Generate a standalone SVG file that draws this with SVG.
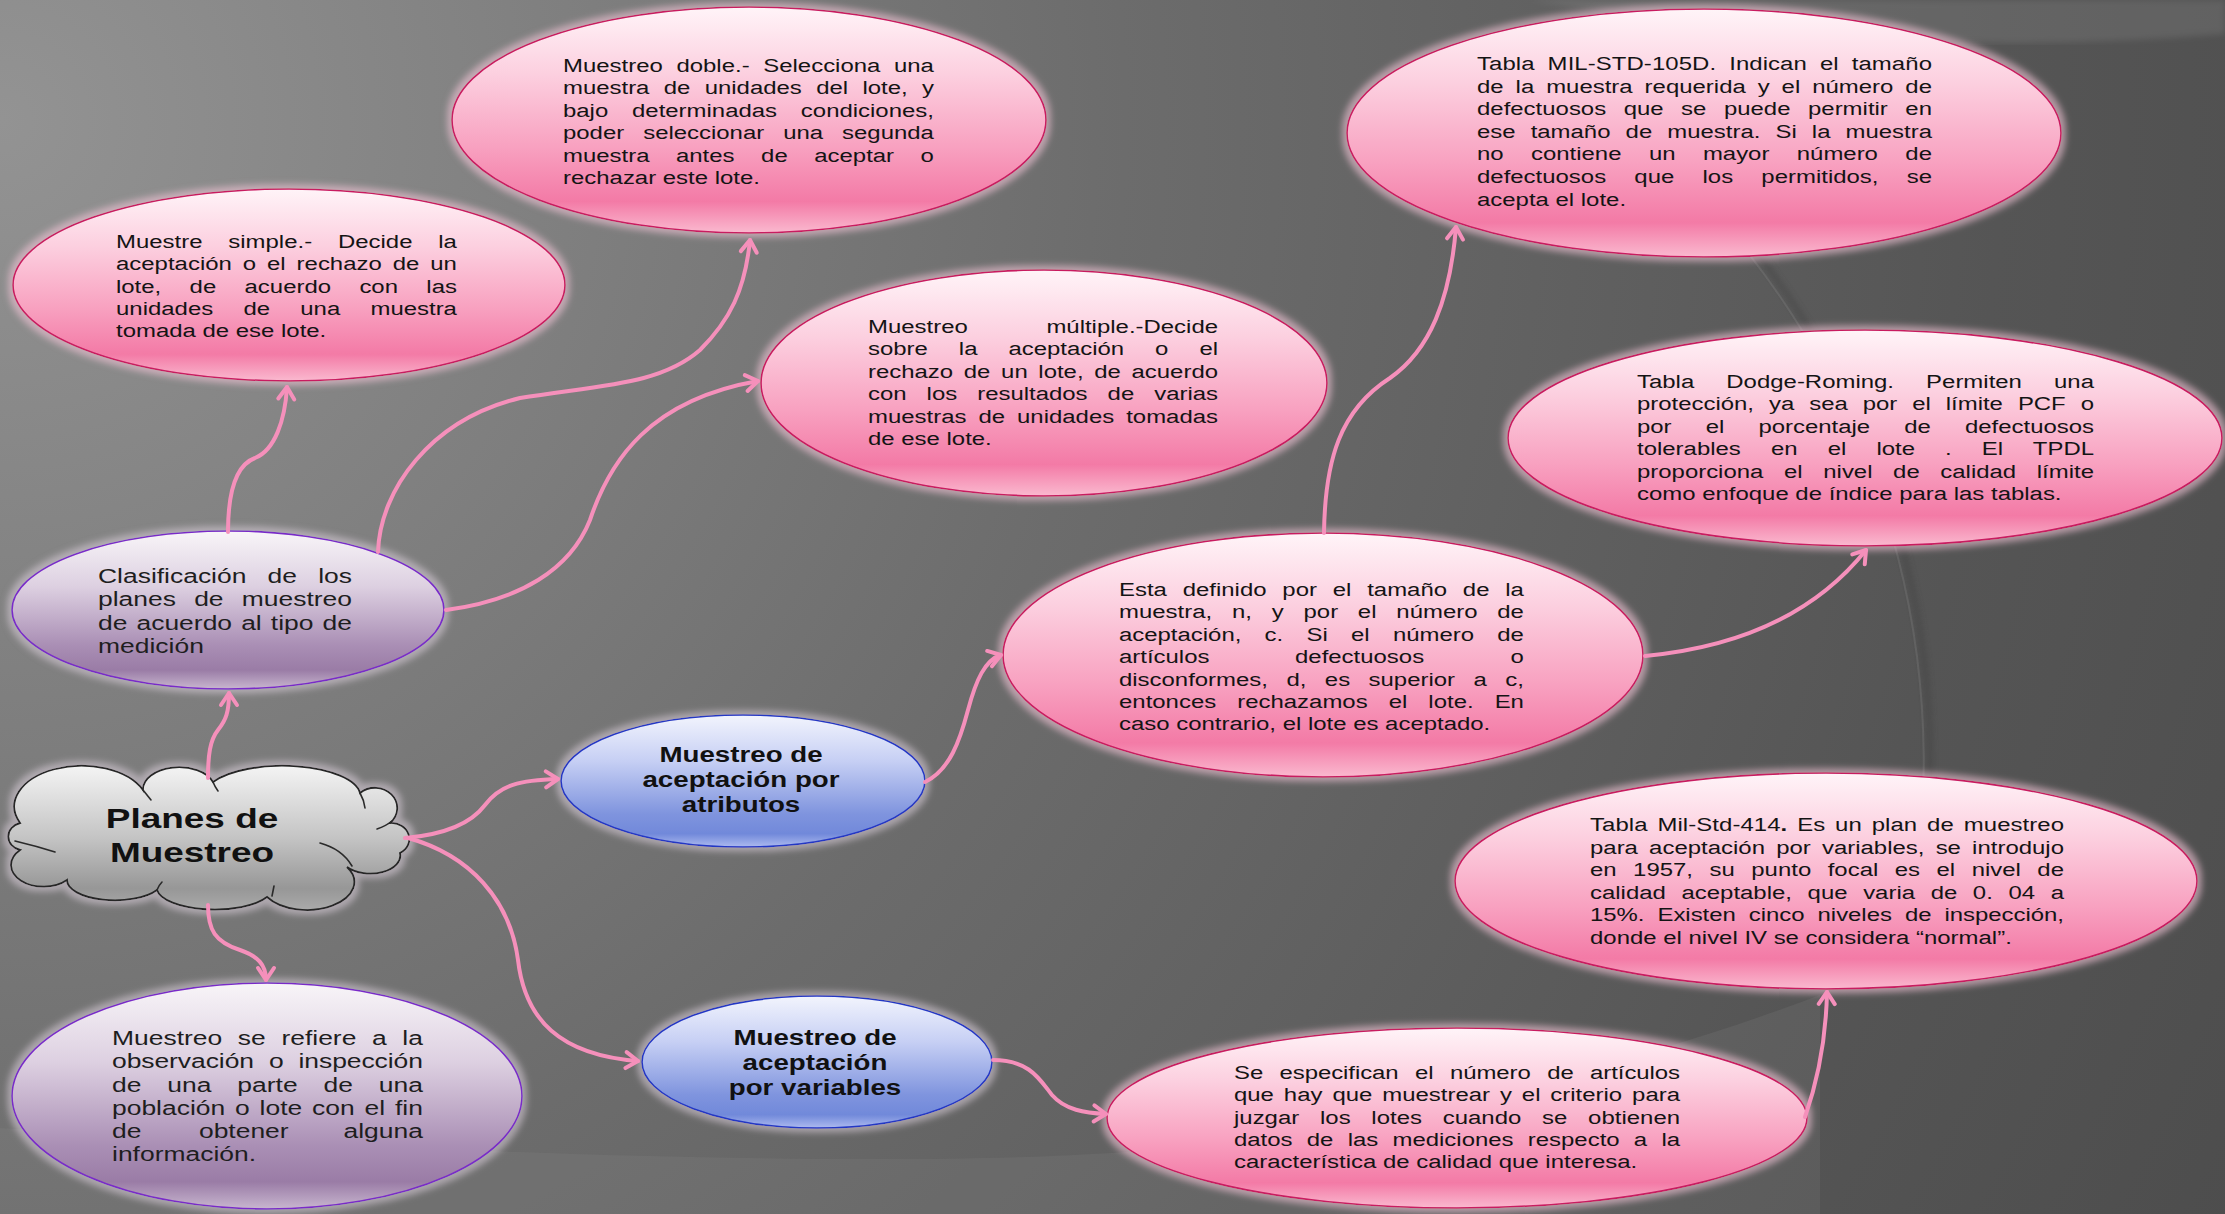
<svg xmlns="http://www.w3.org/2000/svg" width="2225" height="1214" viewBox="0 0 2225 1214">
<defs>
<style>
.t{font-family:"Liberation Sans",Arial,sans-serif;font-size:19px;fill:#141414}
.tp{font-size:21px;fill:#1e1e1e}
.tb{font-family:"Liberation Sans",Arial,sans-serif;font-weight:bold;font-size:22px;fill:#111;text-anchor:middle}
.tc{font-family:"Liberation Sans",Arial,sans-serif;font-weight:bold;font-size:28px;fill:#111;text-anchor:middle}
.e{text-anchor:end}
.pink{fill:url(#gPink);stroke:#c81a60;stroke-width:1.6;filter:url(#glowP)}
.purple{fill:url(#gPurple);stroke:#7a2cc8;stroke-width:1.6;filter:url(#glowV)}
.blue{fill:url(#gBlue);stroke:#2438c4;stroke-width:1.6;filter:url(#glowV)}
.conn{fill:none;stroke:#f590bb;stroke-width:4;stroke-linecap:round;marker-end:url(#arr)}
.inner{fill:none;stroke:#2a2a2a;stroke-width:1.6;stroke-linecap:round}
</style>
<radialGradient id="bg" cx="0" cy="120" r="2500" gradientUnits="userSpaceOnUse">
<stop offset="0" stop-color="#939393"/>
<stop offset="0.45" stop-color="#6c6c6c"/>
<stop offset="0.8" stop-color="#555555"/>
<stop offset="1" stop-color="#4d4d4d"/>
</radialGradient>
<linearGradient id="gPink" x1="0" y1="0" x2="0" y2="1">
<stop offset="0" stop-color="#fff4f8"/>
<stop offset="0.3" stop-color="#fccfdf"/>
<stop offset="0.62" stop-color="#f8a1c0"/>
<stop offset="0.86" stop-color="#f37aa6"/>
<stop offset="1" stop-color="#fab9cf"/>
</linearGradient>
<linearGradient id="gPurple" x1="0" y1="0" x2="0" y2="1">
<stop offset="0" stop-color="#f8f5f8"/>
<stop offset="0.35" stop-color="#ddd0e1"/>
<stop offset="0.72" stop-color="#aa8fb5"/>
<stop offset="0.88" stop-color="#9a7ca6"/>
<stop offset="1" stop-color="#c8b6cf"/>
</linearGradient>
<linearGradient id="gBlue" x1="0" y1="0" x2="0" y2="1">
<stop offset="0" stop-color="#f2f4fd"/>
<stop offset="0.35" stop-color="#c6cff4"/>
<stop offset="0.75" stop-color="#7f94de"/>
<stop offset="0.9" stop-color="#7189da"/>
<stop offset="1" stop-color="#adbaef"/>
</linearGradient>
<linearGradient id="gCloud" x1="0" y1="0" x2="0" y2="1">
<stop offset="0" stop-color="#f4f4f4"/>
<stop offset="0.5" stop-color="#c4c4c4"/>
<stop offset="0.85" stop-color="#979797"/>
<stop offset="1" stop-color="#aaaaaa"/>
</linearGradient>
<filter id="glowP" x="-10%" y="-15%" width="120%" height="130%">
<feMorphology in="SourceAlpha" operator="dilate" radius="4" result="d"/>
<feGaussianBlur in="d" stdDeviation="3" result="b"/>
<feFlood flood-color="#f2c4d6" flood-opacity="0.6"/>
<feComposite in2="b" operator="in" result="g"/>
<feMerge><feMergeNode in="g"/><feMergeNode in="SourceGraphic"/></feMerge>
</filter>
<filter id="glowV" x="-10%" y="-15%" width="120%" height="130%">
<feMorphology in="SourceAlpha" operator="dilate" radius="4" result="d"/>
<feGaussianBlur in="d" stdDeviation="3" result="b"/>
<feFlood flood-color="#dcd0dc" flood-opacity="0.55"/>
<feComposite in2="b" operator="in" result="g"/>
<feMerge><feMergeNode in="g"/><feMergeNode in="SourceGraphic"/></feMerge>
</filter>
<filter id="soft" x="-5%" y="-5%" width="110%" height="110%">
<feGaussianBlur stdDeviation="3"/>
</filter>
<marker id="arr" markerUnits="userSpaceOnUse" markerWidth="22" markerHeight="22" viewBox="0 0 22 22" refX="17" refY="11" orient="auto">
<path d="M 5 3 L 17 11 L 5 19" fill="none" stroke="#f590bb" stroke-width="4" stroke-linecap="round" stroke-linejoin="round"/>
</marker>
</defs>

<g id="background">
<rect x="0" y="0" width="2225" height="1214" fill="url(#bg)"/>
<path d="M 1530 0 Q 1880 62 2225 34 L 2225 0 Z" fill="#9a9a9a" opacity="0.22" filter="url(#soft)"/>
<path d="M 1717 205 A 830 830 0 0 1 1908 950" fill="none" stroke="#3a3a3a" stroke-width="5" opacity="0.45" filter="url(#soft)"/>
<path d="M 1712 210 A 825 825 0 0 1 1902 950" fill="none" stroke="#8a8a8a" stroke-width="2" opacity="0.25"/>
<path d="M 0 1128 C 400 1150 900 1172 1150 1150 C 1400 1125 1650 1060 1820 995 L 1820 1214 L 0 1214 Z" fill="#8e8e8e" opacity="0.16"/>
</g>

<g id="node-muestre-simple">
<ellipse class="pink" cx="289" cy="285" rx="276" ry="96"/>
<g transform="translate(116,0) scale(1.26,1)" class="t">
<text x="0" y="248" word-spacing="15.2" textLength="270.6" lengthAdjust="spacing">Muestre simple.- Decide la</text>
<text x="0" y="270.3" word-spacing="3.4" textLength="270.6" lengthAdjust="spacing">aceptación o el rechazo de un</text>
<text x="0" y="292.6" word-spacing="17.2" textLength="270.6" lengthAdjust="spacing">lote, de acuerdo con las</text>
<text x="0" y="314.9" word-spacing="18.7" textLength="270.6" lengthAdjust="spacing">unidades de una muestra</text>
<text x="0" y="337.2">tomada de ese lote.</text>
</g>
</g>

<g id="node-muestreo-doble">
<ellipse class="pink" cx="749" cy="120" rx="297" ry="113"/>
<g transform="translate(563,0) scale(1.26,1)" class="t">
<text x="0" y="72" word-spacing="5.5" textLength="294.4" lengthAdjust="spacing">Muestreo doble.- Selecciona una</text>
<text x="0" y="94.4" word-spacing="6.1" textLength="294.4" lengthAdjust="spacing">muestra de unidades del lote, y</text>
<text x="0" y="116.8" word-spacing="13.6" textLength="294.4" lengthAdjust="spacing">bajo determinadas condiciones,</text>
<text x="0" y="139.2" word-spacing="9.8" textLength="294.4" lengthAdjust="spacing">poder seleccionar una segunda</text>
<text x="0" y="161.6" word-spacing="15.8" textLength="294.4" lengthAdjust="spacing">muestra antes de aceptar o</text>
<text x="0" y="184">rechazar este lote.</text>
</g>
</g>

<g id="node-muestreo-multiple">
<ellipse class="pink" cx="1044" cy="383" rx="283" ry="113"/>
<g transform="translate(868,0) scale(1.26,1)" class="t">
<text x="0" y="333">Muestreo</text>
<text x="277.8" y="333" class="e">múltiple.-Decide</text>
<text x="0" y="355.4" word-spacing="19.3" textLength="277.8" lengthAdjust="spacing">sobre la aceptación o el</text>
<text x="0" y="377.8" word-spacing="3.2" textLength="277.8" lengthAdjust="spacing">rechazo de un lote, de acuerdo</text>
<text x="0" y="400.2" word-spacing="10.6" textLength="277.8" lengthAdjust="spacing">con los resultados de varias</text>
<text x="0" y="422.6" word-spacing="4.2" textLength="277.8" lengthAdjust="spacing">muestras de unidades tomadas</text>
<text x="0" y="445">de ese lote.</text>
</g>
</g>

<g id="node-mil-std-105d">
<ellipse class="pink" cx="1704" cy="133" rx="357" ry="124"/>
<g transform="translate(1477,0) scale(1.26,1)" class="t">
<text x="0" y="70" word-spacing="5.0" textLength="361.1" lengthAdjust="spacing">Tabla MIL-STD-105D. Indican el tamaño</text>
<text x="0" y="92.6" word-spacing="4.2" textLength="361.1" lengthAdjust="spacing">de la muestra requerida y el número de</text>
<text x="0" y="115.2" word-spacing="8.6" textLength="361.1" lengthAdjust="spacing">defectuosos que se puede permitir en</text>
<text x="0" y="137.8" word-spacing="6.7" textLength="361.1" lengthAdjust="spacing">ese tamaño de muestra. Si la muestra</text>
<text x="0" y="160.4" word-spacing="16.5" textLength="361.1" lengthAdjust="spacing">no contiene un mayor número de</text>
<text x="0" y="183" word-spacing="17.1" textLength="361.1" lengthAdjust="spacing">defectuosos que los permitidos, se</text>
<text x="0" y="205.6">acepta el lote.</text>
</g>
</g>

<g id="node-dodge-roming">
<ellipse class="pink" cx="1865" cy="438" rx="357" ry="108"/>
<g transform="translate(1637,0) scale(1.26,1)" class="t">
<text x="0" y="388" word-spacing="20.2" textLength="362.7" lengthAdjust="spacing">Tabla Dodge-Roming. Permiten una</text>
<text x="0" y="410.5" word-spacing="6.6" textLength="362.7" lengthAdjust="spacing">protección, ya sea por el límite PCF o</text>
<text x="0" y="433" word-spacing="21.8" textLength="362.7" lengthAdjust="spacing">por el porcentaje de defectuosos</text>
<text x="0" y="455.5" word-spacing="18.6" textLength="362.7" lengthAdjust="spacing">tolerables en el lote . El TPDL</text>
<text x="0" y="478" word-spacing="11.1" textLength="362.7" lengthAdjust="spacing">proporciona el nivel de calidad límite</text>
<text x="0" y="500.5">como enfoque de índice para las tablas.</text>
</g>
</g>

<g id="node-clasificacion">
<ellipse class="purple" cx="228" cy="610" rx="216" ry="79"/>
<g transform="translate(98,0) scale(1.26,1)" class="t tp">
<text x="0" y="583" word-spacing="11" textLength="201.6" lengthAdjust="spacing">Clasificación de los</text>
<text x="0" y="606.3" word-spacing="8.6" textLength="201.6" lengthAdjust="spacing">planes de muestreo</text>
<text x="0" y="629.6" word-spacing="1.4" textLength="201.6" lengthAdjust="spacing">de acuerdo al tipo de</text>
<text x="0" y="652.9">medición</text>
</g>
</g>

<g id="node-esta-definido">
<ellipse class="pink" cx="1323" cy="655" rx="320" ry="122"/>
<g transform="translate(1119,0) scale(1.26,1)" class="t">
<text x="0" y="596" word-spacing="7.3" textLength="321.4" lengthAdjust="spacing">Esta definido por el tamaño de la</text>
<text x="0" y="618.4" word-spacing="10.4" textLength="321.4" lengthAdjust="spacing">muestra, n, y por el número de</text>
<text x="0" y="640.8" word-spacing="13.2" textLength="321.4" lengthAdjust="spacing">aceptación, c. Si el número de</text>
<text x="0" y="663.2">artículos</text>
<text x="139.7" y="663.2">defectuosos</text>
<text x="321.4" y="663.2" class="e">o</text>
<text x="0" y="685.6" word-spacing="9.4" textLength="321.4" lengthAdjust="spacing">disconformes, d, es superior a c,</text>
<text x="0" y="708" word-spacing="11.4" textLength="321.4" lengthAdjust="spacing">entonces rechazamos el lote. En</text>
<text x="0" y="730.4">caso contrario, el lote es aceptado.</text>
</g>
</g>

<g id="node-atributos">
<ellipse class="blue" cx="743" cy="781" rx="182" ry="66"/>
<g transform="translate(741,0) scale(1.26,1)">
<text class="tb" x="0" y="762">Muestreo de</text>
<text class="tb" x="0" y="787">aceptación por</text>
<text class="tb" x="0" y="812">atributos</text>
</g>
</g>

<g id="node-planes-de-muestreo">
<path d="M 20 850 A 16 14 0 0 1 20 823 A 66 40 0 0 1 143 790 A 36 22 0 0 1 213 782 A 78 30 0 0 1 360 793 A 22 20 0 0 1 390 823 A 18 16 0 0 1 400 853 A 30 18 0 0 1 347 867 A 44 26 0 0 1 267 897 A 58 22 0 0 1 157 890 A 48 20 0 0 1 67 880 A 30 20 0 0 1 20 850 Z" fill="url(#gCloud)" stroke="#262626" stroke-width="1.8" filter="url(#glowV)"/>
<path class="inner" d="M 15 841 Q 36 846 55 852"/>
<path class="inner" d="M 143 790 Q 147 795 151 800"/>
<path class="inner" d="M 213 782 Q 215 787 218 791"/>
<path class="inner" d="M 360 793 Q 364 800 365 808"/>
<path class="inner" d="M 377 829 Q 386 826 392 821"/>
<path class="inner" d="M 320 843 Q 342 849 352 866"/>
<path class="inner" d="M 157 890 Q 159 885 162 882"/>
<path class="inner" d="M 272 896 Q 273 891 274 886"/>
<g transform="translate(192,0) scale(1.32,1)">
<text class="tc" x="0" y="828">Planes de</text>
<text class="tc" x="0" y="862">Muestreo</text>
</g>
</g>

<g id="node-mil-std-414">
<ellipse class="pink" cx="1826" cy="881" rx="371" ry="108"/>
<g transform="translate(1590,0) scale(1.26,1)" class="t">
<text x="0" y="831" word-spacing="2.5" textLength="376.2" lengthAdjust="spacing">Tabla Mil-Std-414<tspan font-weight="bold">.</tspan> Es un plan de muestreo</text>
<text x="0" y="853.6" word-spacing="3.6" textLength="376.2" lengthAdjust="spacing">para aceptación por variables, se introdujo</text>
<text x="0" y="876.2" word-spacing="7.8" textLength="376.2" lengthAdjust="spacing">en 1957, su punto focal es el nivel de</text>
<text x="0" y="898.8" word-spacing="7.1" textLength="376.2" lengthAdjust="spacing">calidad aceptable, que varia de 0. 04 a</text>
<text x="0" y="921.4" word-spacing="5.1" textLength="376.2" lengthAdjust="spacing">15%. Existen cinco niveles de inspección,</text>
<text x="0" y="944">donde el nivel IV se considera “normal”.</text>
</g>
</g>

<g id="node-muestreo-se-refiere">
<ellipse class="purple" cx="267" cy="1096" rx="255" ry="113"/>
<g transform="translate(112,0) scale(1.26,1)" class="t tp">
<text x="0" y="1045" word-spacing="6.6" textLength="246.8" lengthAdjust="spacing">Muestreo se refiere a la</text>
<text x="0" y="1068.3" word-spacing="6.1" textLength="246.8" lengthAdjust="spacing">observación o inspección</text>
<text x="0" y="1091.6" word-spacing="14.7" textLength="246.8" lengthAdjust="spacing">de una parte de una</text>
<text x="0" y="1114.9" word-spacing="2.0" textLength="246.8" lengthAdjust="spacing">población o lote con el fin</text>
<text x="0" y="1138.2">de</text>
<text x="69" y="1138.2">obtener</text>
<text x="246.8" y="1138.2" class="e">alguna</text>
<text x="0" y="1161.5">información.</text>
</g>
</g>

<g id="node-variables">
<ellipse class="blue" cx="817" cy="1062" rx="175" ry="66"/>
<g transform="translate(815,0) scale(1.26,1)">
<text class="tb" x="0" y="1045">Muestreo de</text>
<text class="tb" x="0" y="1070">aceptación</text>
<text class="tb" x="0" y="1095">por variables</text>
</g>
</g>

<g id="node-se-especifican">
<ellipse class="pink" cx="1457" cy="1118" rx="350" ry="90"/>
<g transform="translate(1234,0) scale(1.26,1)" class="t">
<text x="0" y="1079" word-spacing="7.8" textLength="354" lengthAdjust="spacing">Se especifican el número de artículos</text>
<text x="0" y="1101.3" word-spacing="2.6" textLength="354" lengthAdjust="spacing">que hay que muestrear y el criterio para</text>
<text x="0" y="1123.6" word-spacing="11.2" textLength="354" lengthAdjust="spacing">juzgar los lotes cuando se obtienen</text>
<text x="0" y="1145.9" word-spacing="6.0" textLength="354" lengthAdjust="spacing">datos de las mediciones respecto a la</text>
<text x="0" y="1168.2">característica de calidad que interesa.</text>
</g>
</g>

<g id="connectors">
<path class="conn" d="M 208 778 C 208 755 210 740 218 730 C 226 720 229 712 229 693"/>
<path class="conn" d="M 228 532 C 228 490 236 465 255 458 C 275 450 285 420 287 387"/>
<path class="conn" d="M 378 552 C 380 490 430 420 520 398 C 600 385 660 385 700 350 C 730 320 745 290 750 240"/>
<path class="conn" d="M 446 610 C 520 600 570 570 590 520 C 610 460 650 400 758 381"/>
<path class="conn" d="M 405 838 C 440 835 470 825 485 805 C 500 785 520 780 558 779"/>
<path class="conn" d="M 408 838 C 470 855 510 900 518 960 C 525 1020 560 1055 638 1061"/>
<path class="conn" d="M 208 905 C 208 930 215 942 240 950 C 258 956 266 965 266 980"/>
<path class="conn" d="M 925 782 C 950 770 960 740 968 710 C 976 680 985 660 1001 655"/>
<path class="conn" d="M 1324 533 C 1325 460 1340 410 1390 378 C 1430 350 1450 300 1456 227"/>
<path class="conn" d="M 1645 656 C 1730 648 1810 620 1866 550"/>
<path class="conn" d="M 993 1060 C 1030 1060 1040 1080 1052 1095 C 1065 1110 1085 1113 1106 1114"/>
<path class="conn" d="M 1805 1117 C 1818 1080 1826 1040 1827 992"/>
</g>
</svg>
